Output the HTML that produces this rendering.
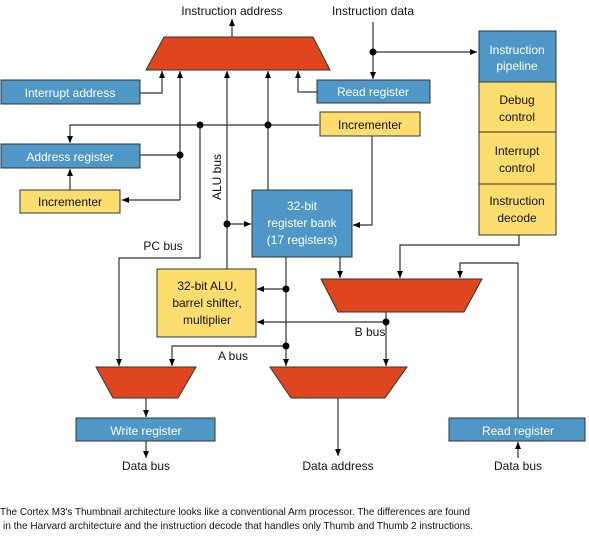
<!DOCTYPE html>
<html><head><meta charset="utf-8"><style>
html,body{margin:0;padding:0;background:#fff;}
svg{display:block;}
text{font-family:"Liberation Sans",sans-serif;font-size:12px;}
.w{fill:#fff;}
.k{fill:#111;}
</style></head><body>
<svg width="589" height="547" viewBox="0 0 589 547" xmlns="http://www.w3.org/2000/svg">
<defs>
<marker id="a" markerWidth="8" markerHeight="8" refX="7" refY="4" orient="auto" markerUnits="userSpaceOnUse">
<path d="M0,1 L7,4 L0,7 Z" fill="#000"/></marker>
</defs>
<g stroke="#333" stroke-width="1.2" fill="none">
<line x1="232" y1="37" x2="232" y2="19" marker-end="url(#a)"/>
<polyline points="140,93 162,93 162,71" marker-end="url(#a)"/>
<line x1="180" y1="200" x2="180" y2="71" marker-end="url(#a)"/>
<polyline points="180,200 122,200" marker-end="url(#a)"/>
<line x1="140" y1="155" x2="180" y2="155"/>
<line x1="70" y1="190" x2="70" y2="169" marker-end="url(#a)"/>
<polyline points="319,125 70,125 70,143" marker-end="url(#a)"/>
<polyline points="200,125 200,258 119,258 119,366" marker-end="url(#a)"/>
<line x1="227" y1="269" x2="227" y2="71" marker-end="url(#a)"/>
<line x1="227" y1="224" x2="251" y2="224" marker-end="url(#a)"/>
<line x1="268" y1="190" x2="268" y2="71" marker-end="url(#a)"/>
<polyline points="317,92 298,92 298,71" marker-end="url(#a)"/>
<line x1="373" y1="22" x2="373" y2="79" marker-end="url(#a)"/>
<line x1="373" y1="52" x2="477" y2="52" marker-end="url(#a)"/>
<polyline points="372,136 372,225 353,225" marker-end="url(#a)"/>
<polyline points="519,235 519,245 400,245 400,278" marker-end="url(#a)"/>
<line x1="340" y1="257" x2="340" y2="278" marker-end="url(#a)"/>
<polyline points="518,418 518,263 460,263 460,278" marker-end="url(#a)"/>
<line x1="518" y1="458" x2="518" y2="442" marker-end="url(#a)"/>
<line x1="386" y1="312" x2="386" y2="366" marker-end="url(#a)"/>
<line x1="386" y1="322" x2="257" y2="322" marker-end="url(#a)"/>
<line x1="286" y1="257" x2="286" y2="366" marker-end="url(#a)"/>
<line x1="286" y1="289" x2="257" y2="289" marker-end="url(#a)"/>
<polyline points="286,346 172,346 172,366" marker-end="url(#a)"/>
<line x1="146" y1="398" x2="146" y2="417" marker-end="url(#a)"/>
<line x1="146" y1="441" x2="146" y2="458" marker-end="url(#a)"/>
<line x1="338" y1="398" x2="338" y2="456" marker-end="url(#a)"/>
</g>
<g fill="#000">
<circle cx="180" cy="155" r="3.5"/><circle cx="200" cy="125" r="3.5"/><circle cx="268" cy="125" r="3.5"/>
<circle cx="227" cy="224" r="3.5"/><circle cx="373" cy="52" r="3.5"/>
<circle cx="286" cy="289" r="3.5"/><circle cx="286" cy="346" r="3.5"/><circle cx="386" cy="322" r="3.5"/>
</g>
<g fill="#e0461e" stroke="#333" stroke-width="1">
<polygon points="164,37 313,37 330,70 146,70"/>
<polygon points="321,279 482,279 464,312 338,312"/>
<polygon points="96,367 196,367 178,398 113,398"/>
<polygon points="270,367 407,367 385,398 291,398"/>
</g>
<g stroke="#333" stroke-width="1">
<rect x="1" y="80" width="139" height="24" fill="#4f97c6"/>
<rect x="1" y="144" width="139" height="24" fill="#4f97c6"/>
<rect x="20" y="190" width="100" height="23" fill="#fddd6e"/>
<rect x="317" y="80" width="113" height="23" fill="#4f97c6"/>
<rect x="320" y="112" width="100" height="24" fill="#fddd6e"/>
<rect x="252" y="190" width="100" height="67" fill="#4f97c6"/>
<rect x="157" y="269" width="99" height="68" fill="#fddd6e"/>
<rect x="479" y="31" width="77" height="51" fill="#4f97c6"/>
<rect x="479" y="82" width="77" height="50" fill="#fddd6e"/>
<rect x="479" y="132" width="77" height="52" fill="#fddd6e"/>
<rect x="479" y="184" width="77" height="51" fill="#fddd6e"/>
<rect x="76" y="418" width="139" height="23" fill="#4f97c6"/>
<rect x="449" y="418" width="136" height="23" fill="#4f97c6"/>
</g>
<g text-anchor="middle">
<text x="232" y="15" class="k">Instruction address</text>
<text x="373" y="15" class="k">Instruction data</text>
<text x="70" y="97" class="w">Interrupt address</text>
<text x="70" y="161" class="w">Address register</text>
<text x="70" y="206" class="k">Incrementer</text>
<text x="373" y="96" class="w">Read register</text>
<text x="370" y="129" class="k">Incrementer</text>
<text x="302" y="210" class="w">32-bit</text>
<text x="302" y="227" class="w">register bank</text>
<text x="302" y="244" class="w">(17 registers)</text>
<text x="207" y="290" class="k">32-bit ALU,</text>
<text x="207" y="307" class="k">barrel shifter,</text>
<text x="207" y="324" class="k">multiplier</text>
<text x="517" y="54" class="w">Instruction</text>
<text x="517" y="70" class="w">pipeline</text>
<text x="517" y="104" class="k">Debug</text>
<text x="517" y="121" class="k">control</text>
<text x="517" y="155" class="k">Interrupt</text>
<text x="517" y="172" class="k">control</text>
<text x="517" y="205" class="k">Instruction</text>
<text x="517" y="222" class="k">decode</text>
<text x="146" y="435" class="w">Write register</text>
<text x="518" y="435" class="w">Read register</text>
<text x="146" y="470" class="k">Data bus</text>
<text x="338" y="470" class="k">Data address</text>
<text x="518" y="470" class="k">Data bus</text>
<text x="163" y="250" class="k">PC bus</text>
<text x="233" y="360" class="k">A bus</text>
<text x="370" y="336" class="k">B bus</text>
<text x="221" y="177" class="k" transform="rotate(-90 221 177)">ALU bus</text>
</g>
<text x="0" y="515" class="k" style="font-size:10.5px" textLength="470" lengthAdjust="spacingAndGlyphs">The Cortex M3's Thumbnail architecture looks like a conventional Arm processor. The differences are found</text>
<text x="3" y="529" class="k" style="font-size:10.5px" textLength="470" lengthAdjust="spacingAndGlyphs">in the Harvard architecture and the instruction decode that handles only Thumb and Thumb 2 instructions.</text>
</svg>
</body></html>
